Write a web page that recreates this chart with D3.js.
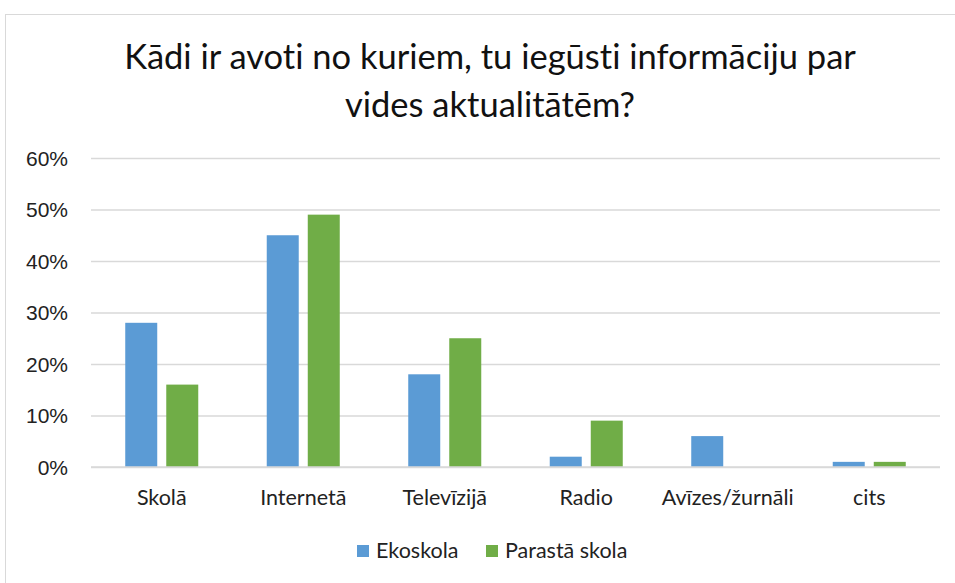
<!DOCTYPE html>
<html>
<head>
  <meta charset="utf-8">
  <title>Avoti</title>
  <style type="text/css">
    body { margin: 0; background-color: #fff; }
    svg { display: block; font-family: Lato, "Open Sans", sans-serif; font-variant-ligatures: none; }
    .axis path { display: none; }
    .axis line { stroke: #d9d9d9; stroke-width: 1.5px; }
    .axis text { fill: #222; font-size: 21px; }
  </style>
  <script src="https://d3js.org/d3.v7.min.js"></script>
</head>
<body>
<script>
var categories = ["Skolā", "Internetā", "Televīzijā", "Radio", "Avīzes/žurnāli", "cits"];
var seriesNames = ["Ekoskola", "Parastā skola"];
var ekoskola = [0.28, 0.45, 0.18, 0.02, 0.06, 0.01];
var parasta = [0.16, 0.49, 0.25, 0.09, 0.00, 0.01];
var yTicks = [0, 0.1, 0.2, 0.3, 0.4, 0.5, 0.6];
var colors = ["#5b9bd5", "#70ad47"];

var W = 955, H = 583;
var svg = d3.select("body").append("svg").attr("width", W).attr("height", H);

// chart frame
svg.append("rect")
  .attr("x", 5.5).attr("y", 14.5)
  .attr("width", W).attr("height", H)
  .attr("fill", "#fff").attr("stroke", "#d9d9d9");

var plotLeft = 91, plotRight = 940, plotTop = 158, plotBottom = 467;

var x = d3.scaleBand().domain(categories).range([plotLeft, plotRight]);
var xInner = d3.scaleBand().domain(seriesNames).range([0, x.bandwidth()])
  .paddingInner(0.22).paddingOuter(0.835);
var y = d3.scaleLinear().domain([0, 0.6]).range([plotBottom, plotTop]);

// gridlines
svg.append("g")
  .attr("class", "axis")
  .attr("transform", "translate(" + plotLeft + ",0)")
  .call(d3.axisLeft(y).tickValues(yTicks).tickSize(-(plotRight - plotLeft)).tickPadding(23)
    .tickFormat(d3.format(".0%")))
  .selectAll("text").attr("dy", "0.35em");

var rows = categories.map(function(c, i) {
  return {cat: c, vals: [ekoskola[i], parasta[i]]};
});

var groups = svg.selectAll("g.grp").data(rows).enter().append("g")
  .attr("class", "grp")
  .attr("transform", function(d) { return "translate(" + x(d.cat) + ",0)"; });

groups.selectAll("rect").data(function(d) {
  return d.vals.map(function(v, j) { return {name: seriesNames[j], v: v, j: j}; });
}).enter().append("rect")
  .attr("x", function(d) { return xInner(d.name); })
  .attr("width", xInner.bandwidth())
  .attr("y", function(d) { return y(d.v); })
  .attr("height", function(d) { return y(0) - y(d.v); })
  .attr("fill", function(d) { return colors[d.j]; });

// baseline
svg.append("line")
  .attr("x1", plotLeft).attr("x2", plotRight)
  .attr("y1", plotBottom).attr("y2", plotBottom)
  .attr("stroke", "#d9d9d9").attr("stroke-width", 1.5);

// category labels
svg.selectAll("text.cat").data(categories).enter().append("text")
  .attr("class", "cat")
  .attr("x", function(d) { return x(d) + x.bandwidth() / 2; })
  .attr("y", 505)
  .attr("text-anchor", "middle")
  .attr("font-size", 21.5)
  .attr("fill", "#222")
  .text(function(d) { return d; });

// title
var title = svg.append("text")
  .attr("text-anchor", "middle")
  .attr("font-size", 34.5)
  .attr("fill", "#111");
title.append("tspan").attr("x", 490).attr("y", 69).text("Kādi ir avoti no kuriem, tu iegūsti informāciju par");
title.append("tspan").attr("x", 490).attr("y", 117).text("vides aktualitātēm?");

// legend
var legX = [357, 486];
var leg = svg.selectAll("g.leg").data(seriesNames).enter().append("g")
  .attr("class", "leg")
  .attr("transform", function(d, i) { return "translate(" + legX[i] + ",545)"; });
leg.append("rect").attr("width", 12).attr("height", 12)
  .attr("fill", function(d, i) { return colors[i]; });
leg.append("text").attr("x", 19).attr("y", 13)
  .attr("font-size", 21.5).attr("fill", "#222")
  .text(function(d) { return d; });
</script>
</body>
</html>
